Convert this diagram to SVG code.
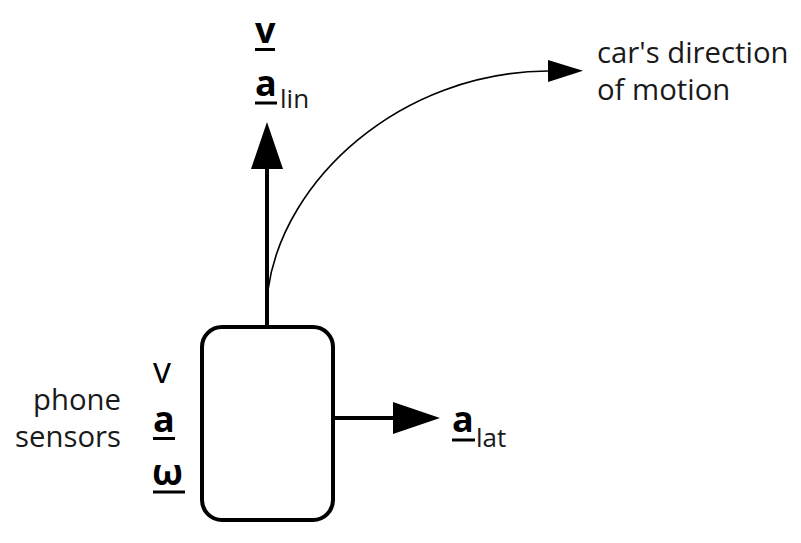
<svg xmlns="http://www.w3.org/2000/svg" width="801" height="543" viewBox="0 0 801 543">
<style>
.lbl{font-family:"Open Sans","Noto Sans","Liberation Sans",sans-serif;font-size:29.3px;fill:#1a1a1a}
.sym{font-family:"Open Sans","Noto Sans","Liberation Sans",sans-serif;font-size:36px;fill:#000}
.b{font-weight:bold}
.sub{font-family:"Open Sans","Noto Sans","Liberation Sans",sans-serif;font-size:26px;fill:#1a1a1a}
.ul{stroke:#000;stroke-width:3}
.thick{fill:none;stroke:#000;stroke-width:4}
.thin{fill:none;stroke:#000;stroke-width:1.6}
.box{fill:#fff;stroke:#000;stroke-width:4}
</style>
<defs>
<marker id="headThick" markerUnits="userSpaceOnUse" viewBox="0 0 48 32" markerWidth="48" markerHeight="32" refX="0" refY="16" orient="auto">
<path d="M0,0 L47,16 L0,32 Z" fill="#000"/>
</marker>
<marker id="headThin" markerUnits="userSpaceOnUse" viewBox="0 0 36 22" markerWidth="36" markerHeight="22" refX="0" refY="11" orient="auto">
<path d="M0,0 L35,11 L0,22 Z" fill="#000"/>
</marker>
</defs>
<rect width="801" height="543" fill="#fff"/>
<g id="connectors">
<path class="thick" d="M267,327 V169" marker-end="url(#headThick)"/>
<path class="thick" d="M333,418 H393" marker-end="url(#headThick)"/>
<path class="thin" d="M268,290 C283,180 400,72 548,71" marker-end="url(#headThin)"/>
</g>
<g id="phone">
<rect class="box" x="202" y="327" width="131" height="193" rx="20" ry="20"/>
</g>
<g id="phone-label">
<text class="lbl" x="121" y="410" text-anchor="end">phone</text>
<text class="lbl" x="121" y="447" text-anchor="end">sensors</text>
</g>
<g id="sensor-symbols">
<text class="sym" x="153" y="383">v</text>
<text class="sym b" x="153" y="432">a</text>
<line class="ul" x1="153" y1="438.5" x2="175" y2="438.5"/>
<text class="sym b" x="152" y="485">ω</text>
<line class="ul" x1="153" y1="492" x2="185" y2="492"/>
</g>
<g id="velocity-label">
<text class="sym b" x="255" y="43">v</text>
<line class="ul" x1="255" y1="49.5" x2="275" y2="49.5"/>
</g>
<g id="alin-label">
<text class="sym b" x="255" y="96">a</text>
<line class="ul" x1="255" y1="103" x2="277" y2="103"/>
<text class="sub" x="280" y="108">lin</text>
</g>
<g id="alat-label">
<text class="sym b" x="452" y="432">a</text>
<line class="ul" x1="452" y1="440" x2="475" y2="440"/>
<text class="sub" x="476" y="447">lat</text>
</g>
<g id="motion-label">
<text class="lbl" x="597" y="63">car's direction</text>
<text class="lbl" x="597" y="100">of motion</text>
</g>
</svg>
